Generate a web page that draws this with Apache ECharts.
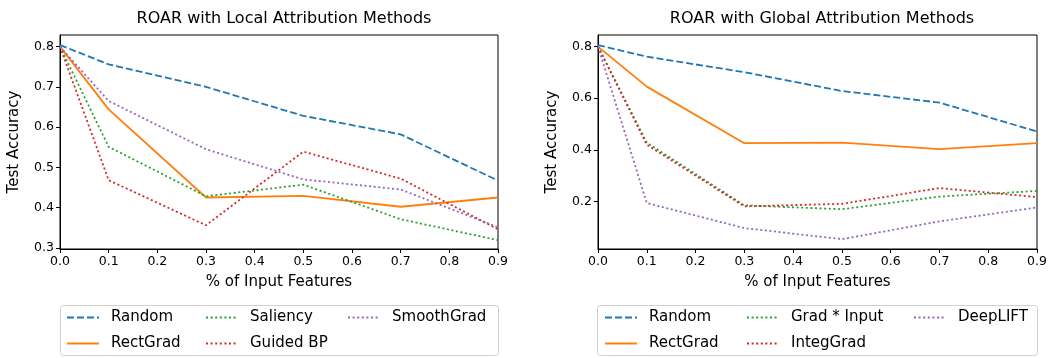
<!DOCTYPE html>
<html>
<head>
<meta charset="utf-8">
<script src="https://cdn.jsdelivr.net/npm/echarts@6/dist/echarts.min.js"></script>
<style>
  html, body { margin: 0; padding: 0; background: #fff; }
  #chart { width: 1050px; height: 358px; }
</style>
</head>
<body>
<div id="chart"></div>
<script>
// x positions (% of input features removed)
const xs = [0.0, 0.1, 0.3, 0.5, 0.7, 0.9];
const xTicks = [0.0, 0.1, 0.2, 0.3, 0.4, 0.5, 0.6, 0.7, 0.8, 0.9];

// local attribution methods
const localRandom = [0.804, 0.756, 0.700, 0.628, 0.582, 0.467];
const localRectGrad = [0.800, 0.644, 0.425, 0.429, 0.402, 0.425];
const localSaliency = [0.800, 0.551, 0.428, 0.457, 0.371, 0.319];
const localGuidedBP = [0.800, 0.468, 0.356, 0.539, 0.472, 0.346];
const localSmoothGrad = [0.800, 0.665, 0.545, 0.470, 0.445, 0.351];
const localYTicks = [0.3, 0.4, 0.5, 0.6, 0.7, 0.8];

// global attribution methods
const globalRandom = [0.806, 0.761, 0.701, 0.628, 0.583, 0.471];
const globalRectGrad = [0.800, 0.645, 0.426, 0.428, 0.403, 0.426];
const globalGradInput = [0.800, 0.428, 0.185, 0.170, 0.219, 0.241];
const globalIntegGrad = [0.800, 0.420, 0.181, 0.191, 0.252, 0.217];
const globalDeepLIFT = [0.800, 0.194, 0.097, 0.054, 0.123, 0.177];
const globalYTicks = [0.2, 0.4, 0.6, 0.8];

const C = ['#1f77b4', '#ff7f0e', '#2ca02c', '#d62728', '#9467bd'];
const FONT = 'DejaVu Sans';
const DASHED = [7, 3];
const DOTTED = [2, 2.6];

function pts(vals) {
	return xs.map((x, i) => [x, vals[i]]);
}

function mkSeries(name, vals, idx, color, type) {
	return {
		name: name,
		type: 'line',
		xAxisIndex: idx,
		yAxisIndex: idx,
		data: pts(vals),
		symbol: 'none',
		showSymbol: false,
		legendIcon: 'none',
		animation: false,
		lineStyle: { color: color, width: 1.8, type: type, cap: 'butt' },
		itemStyle: { color: color },
	};
}

function xAxisCfg(idx) {
	return {
		type: 'value',
		gridIndex: idx,
		min: 0,
		max: 0.9,
		interval: 0.1,
		name: '% of Input Features',
		nameLocation: 'middle',
		nameGap: 26,
		nameTextStyle: { fontFamily: FONT, fontSize: 15, color: '#000' },
		axisLine: { show: true, onZero: false, lineStyle: { color: '#000', width: 1 } },
		axisTick: { show: true, inside: false, length: 4, lineStyle: { color: '#000' } },
		axisLabel: {
			fontFamily: FONT, fontSize: 12.5, color: '#000', margin: 6,
			formatter: (v) => v.toFixed(1),
		},
		splitLine: { show: false },
	};
}

function yAxisCfg(idx, min, max, ticks) {
	return {
		type: 'value',
		gridIndex: idx,
		min: min,
		max: max,
		name: 'Test Accuracy',
		nameLocation: 'middle',
		nameGap: 38,
		nameTextStyle: { fontFamily: FONT, fontSize: 15, color: '#000' },
		axisLine: { show: true, onZero: false, lineStyle: { color: '#000', width: 1 } },
		axisTick: { show: true, inside: false, length: 4, customValues: ticks, lineStyle: { color: '#000' } },
		axisLabel: {
			fontFamily: FONT, fontSize: 12.5, color: '#000', margin: 6,
			customValues: ticks,
			formatter: (v) => v.toFixed(1),
		},
		splitLine: { show: false },
	};
}

function legendCol(names, left) {
	return {
		orient: 'vertical',
		left: left,
		top: 310,
		data: names,
		itemWidth: 32,
		itemHeight: 14,
		itemGap: 11,
		padding: 0,
		itemStyle: { opacity: 0 },
		textStyle: { fontFamily: FONT, fontSize: 15, color: '#000', padding: [0, 0, 0, 7] },
	};
}

const chart = echarts.init(document.getElementById('chart'), null, { renderer: 'canvas' });
chart.setOption({
	backgroundColor: '#fff',
	animation: false,
	title: [
		{
			text: 'ROAR with Local Attribution Methods',
			left: 279, top: 6, textAlign: 'center',
			textStyle: { fontFamily: FONT, fontSize: 16, fontWeight: 'normal', color: '#000' },
		},
		{
			text: 'ROAR with Global Attribution Methods',
			left: 817, top: 6, textAlign: 'center',
			textStyle: { fontFamily: FONT, fontSize: 16, fontWeight: 'normal', color: '#000' },
		},
	],
	grid: [
		{ left: 60, top: 35, width: 438, height: 214, show: true, borderColor: '#000', borderWidth: 1, backgroundColor: 'transparent' },
		{ left: 598, top: 35, width: 439, height: 214, show: true, borderColor: '#000', borderWidth: 1, backgroundColor: 'transparent' },
	],
	xAxis: [xAxisCfg(0), xAxisCfg(1)],
	yAxis: [
		yAxisCfg(0, 0.297, 0.829, localYTicks),
		yAxisCfg(1, 0.016, 0.845, globalYTicks),
	],
	legend: [
		legendCol(['Random', 'RectGrad'], 66),
		legendCol(['Saliency', 'Guided BP'], 205),
		legendCol(['SmoothGrad'], 347),
		legendCol(['Random ', 'RectGrad '], 604),
		legendCol(['Grad * Input', 'IntegGrad'], 746),
		legendCol(['DeepLIFT'], 913),
	],
	graphic: [
		{ type: 'rect', shape: { x: 60.5, y: 305.5, width: 438, height: 50, r: 3 }, style: { fill: 'none', stroke: '#d0d0d0', lineWidth: 1 } },
		{ type: 'rect', shape: { x: 597.5, y: 305.5, width: 440, height: 50, r: 3 }, style: { fill: 'none', stroke: '#d0d0d0', lineWidth: 1 } },
	],
	series: [
		mkSeries('Random', localRandom, 0, C[0], DASHED),
		mkSeries('RectGrad', localRectGrad, 0, C[1], 'solid'),
		mkSeries('Saliency', localSaliency, 0, C[2], DOTTED),
		mkSeries('Guided BP', localGuidedBP, 0, C[3], DOTTED),
		mkSeries('SmoothGrad', localSmoothGrad, 0, C[4], DOTTED),
		mkSeries('Random ', globalRandom, 1, C[0], DASHED),
		mkSeries('RectGrad ', globalRectGrad, 1, C[1], 'solid'),
		mkSeries('Grad * Input', globalGradInput, 1, C[2], DOTTED),
		mkSeries('IntegGrad', globalIntegGrad, 1, C[3], DOTTED),
		mkSeries('DeepLIFT', globalDeepLIFT, 1, C[4], DOTTED),
	],
});
</script>
</body>
</html>
